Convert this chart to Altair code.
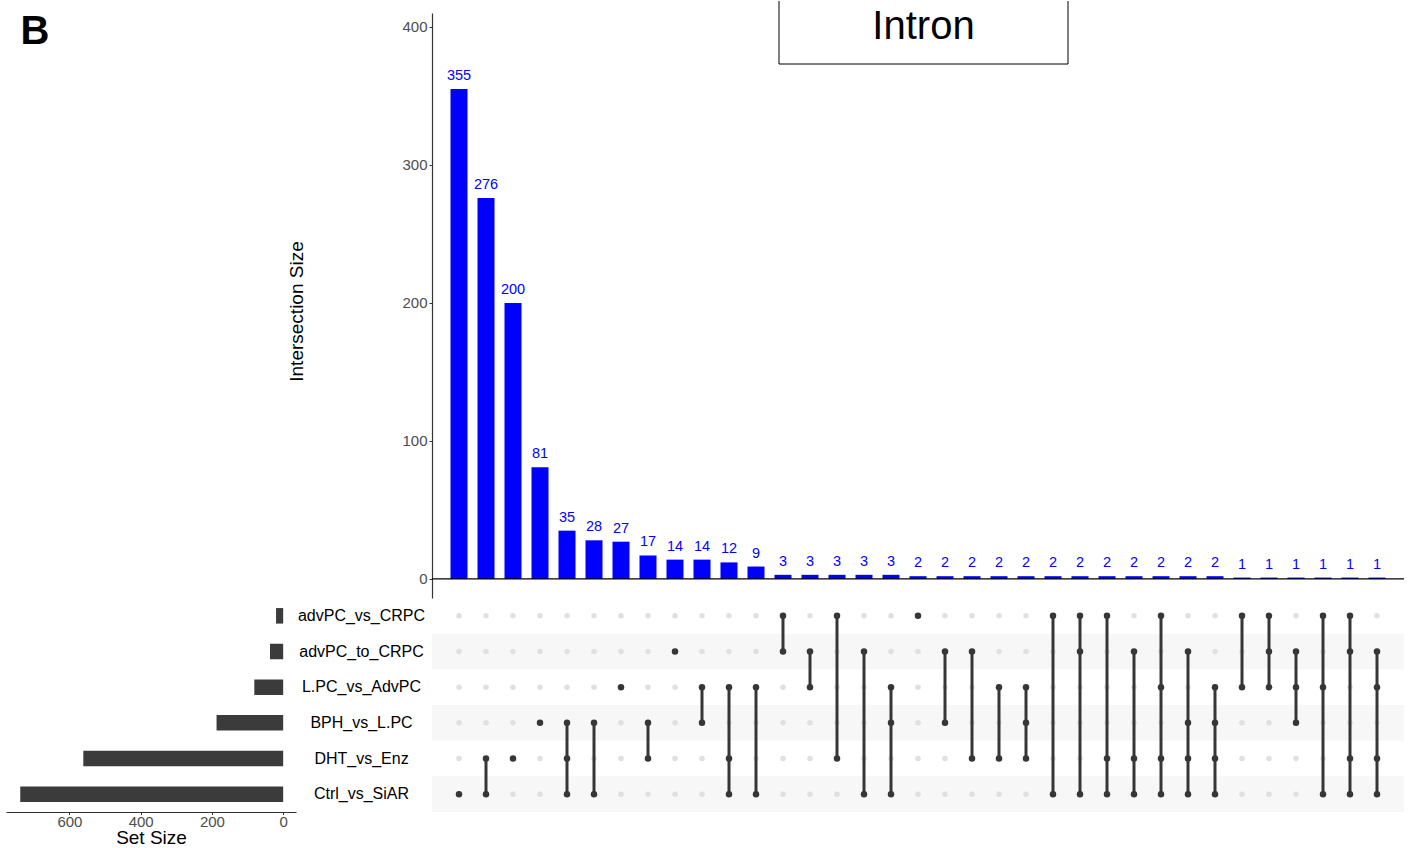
import altair as alt
import pandas as pd

# Sets, top to bottom in the matrix
sets = ["advPC_vs_CRPC", "advPC_to_CRPC", "L.PC_vs_AdvPC",
        "BPH_vs_L.PC", "DHT_vs_Enz", "Ctrl_vs_SiAR"]

# Intersection sizes, in plotting order
intersection_sizes = [355, 276, 200, 81, 35, 28, 27, 17, 14, 14, 12, 9,
                      3, 3, 3, 3, 3,
                      2, 2, 2, 2, 2, 2, 2, 2, 2, 2, 2, 2,
                      1, 1, 1, 1, 1, 1]

A, B, L, P, D, C = sets
intersection_members = [
    [C], [D, C], [D], [P], [P, D, C], [P, C], [L], [P, D], [B], [L, P],
    [L, D, C], [L, C],
    [A, B], [B, L], [A, D], [B, C], [L, P, C],
    [A], [B, P], [B, D], [L, D], [L, P, D], [A, C], [A, B, C], [A, D, C],
    [B, D, C], [A, L, D, C], [B, P, D, C], [L, P, D, C],
    [A, L], [A, B, L], [B, L, P], [A, L, C], [A, B, D, C], [B, L, D, C],
]

# Total size of each set
set_sizes = [20, 37, 81, 187, 561, 738]

FONT = "Liberation Sans"
BAR_BLUE = "#0000ff"
DARK = "#363636"
n = len(intersection_sizes)
row_of = {s: i for i, s in enumerate(sets)}

# ---- tables ---------------------------------------------------------------
bar_df = pd.DataFrame({"idx": list(range(1, n + 1)), "size": intersection_sizes})
base_df = pd.DataFrame({"lo": [0], "hi": [n + 1], "zero": [0]})

grid_rows = []
for i, members in enumerate(intersection_members, start=1):
    for s in sets:
        grid_rows.append({"idx": i, "row": row_of[s], "active": s in members})
grid_df = pd.DataFrame(grid_rows)

seg_rows = []
for i, members in enumerate(intersection_members, start=1):
    r = [row_of[s] for s in members]
    if len(r) > 1:
        seg_rows.append({"idx": i, "top": min(r), "bottom": max(r)})
seg_df = pd.DataFrame(seg_rows)

stripe_df = pd.DataFrame({"row": [1, 3, 5]})
stripe_df["top"] = stripe_df["row"] - 0.5
stripe_df["bottom"] = stripe_df["row"] + 0.5
stripe_df["lo"] = 0
stripe_df["hi"] = n + 1

set_df = pd.DataFrame({"set": sets, "size": set_sizes})

# ---- shared scales --------------------------------------------------------
x_scale = alt.Scale(domain=[0, n + 1], nice=False, zero=False, padding=0)
row_scale = alt.Scale(domain=[-0.5, len(sets) - 0.5], reverse=True, nice=False, zero=False)

# ---- intersection size bars -----------------------------------------------
bars_base = alt.Chart(bar_df)
bars = bars_base.mark_bar(color=BAR_BLUE, size=17).encode(
    x=alt.X("idx:Q", scale=x_scale, axis=None),
    y=alt.Y("size:Q",
            scale=alt.Scale(domain=[-13.8, 410.1], nice=False, zero=False),
            axis=alt.Axis(values=[0, 100, 200, 300, 400], grid=False,
                          title="Intersection Size", titleFontSize=19,
                          titleFontWeight="normal", titleColor="black",
                          titleX=-130, titleY=298, titleBaseline="alphabetic",
                          labelFontSize=15, labelColor="#4d4d4d", labelPadding=2,
                          tickSize=3, tickColor="#333333",
                          domainColor="#333333", domainWidth=1.2)),
)
bar_labels = bars_base.mark_text(color=BAR_BLUE, fontSize=14.5, dy=-9,
                                 baseline="alphabetic").encode(
    x="idx:Q", y="size:Q", text="size:Q"
)
zero_line = alt.Chart(base_df).mark_rule(color="black", strokeWidth=1.2).encode(
    x="lo:Q", x2="hi:Q", y="zero:Q"
)

# panel title in an open frame
title_src = alt.Chart(pd.DataFrame({"t": ["Intron"]}))
frame_l = title_src.mark_rule(color="black", strokeWidth=1).encode(
    x=alt.value(347), y=alt.value(-12), y2=alt.value(51))
frame_r = title_src.mark_rule(color="black", strokeWidth=1).encode(
    x=alt.value(636), y=alt.value(-12), y2=alt.value(51))
frame_b = title_src.mark_rule(color="black", strokeWidth=1).encode(
    x=alt.value(347), x2=alt.value(636), y=alt.value(51))
frame_t = title_src.mark_text(fontSize=40, align="center", baseline="alphabetic",
                              color="black").encode(
    x=alt.value(491.5), y=alt.value(25.5), text="t:N")

top_panel = alt.layer(bars, bar_labels, zero_line, frame_l, frame_r, frame_b,
                      frame_t).properties(width=972, height=585)

# ---- membership matrix ----------------------------------------------------
stripes = alt.Chart(stripe_df).mark_rect(color="#f7f7f7").encode(
    x=alt.X("lo:Q", scale=x_scale, axis=None), x2="hi:Q",
    y=alt.Y("top:Q", scale=row_scale, axis=None), y2="bottom:Q")
dots_off = alt.Chart(grid_df).transform_filter("!datum.active").mark_circle(
    size=30, color="#e0e0e0", opacity=1).encode(
    x=alt.X("idx:Q", scale=x_scale, axis=None),
    y=alt.Y("row:Q", scale=row_scale, axis=None))
links = alt.Chart(seg_df).mark_rule(color=DARK, strokeWidth=3).encode(
    x=alt.X("idx:Q", scale=x_scale, axis=None),
    y=alt.Y("top:Q", scale=row_scale, axis=None), y2="bottom:Q")
dots_on = alt.Chart(grid_df).transform_filter("datum.active").mark_circle(
    size=42, color=DARK, opacity=1).encode(
    x=alt.X("idx:Q", scale=x_scale, axis=None),
    y=alt.Y("row:Q", scale=row_scale, axis=None))

matrix = alt.layer(stripes, dots_off, links, dots_on).properties(width=972, height=214)

# ---- set size bars --------------------------------------------------------
set_bars = alt.Chart(set_df).mark_bar(color="#3b3b3b").encode(
    x=alt.X("size:Q",
            scale=alt.Scale(domain=[-36, 778], reverse=True, nice=False, zero=False),
            axis=alt.Axis(values=[0, 200, 400, 600], grid=False,
                          title="Set Size", titleFontSize=19,
                          titleFontWeight="normal", titleColor="black",
                          titleY=31.5, titleBaseline="alphabetic",
                          labelFontSize=15, labelColor="#4d4d4d", labelPadding=0,
                          tickSize=2.5, tickColor="#333333",
                          domainColor="#333333", domainWidth=1.2)),
    y=alt.Y("set:N", sort=sets,
            scale=alt.Scale(paddingInner=0.565, paddingOuter=0.2825),
            axis=alt.Axis(orient="right", title=None, ticks=False, domain=False,
                          labelAlign="center", labelPadding=65,
                          labelFontSize=16, labelColor="black")),
).properties(width=290, height=214)

corner = alt.Chart(pd.DataFrame({"t": ["B"]})).mark_text(
    fontSize=40, fontWeight="bold", align="left", baseline="alphabetic",
    color="black").encode(
    x=alt.value(14.5), y=alt.value(31), text="t:N"
).properties(width=290, height=585)

chart = alt.concat(
    corner, top_panel, set_bars, matrix,
    columns=2, spacing={"row": 0, "column": 136}, bounds="flush",
).properties(
    padding={"left": 6, "top": 0, "right": 0, "bottom": 0}
).configure(font=FONT).configure_view(stroke=None)

chart.save("out.html", embed_options={"renderer": "svg", "actions": False})
